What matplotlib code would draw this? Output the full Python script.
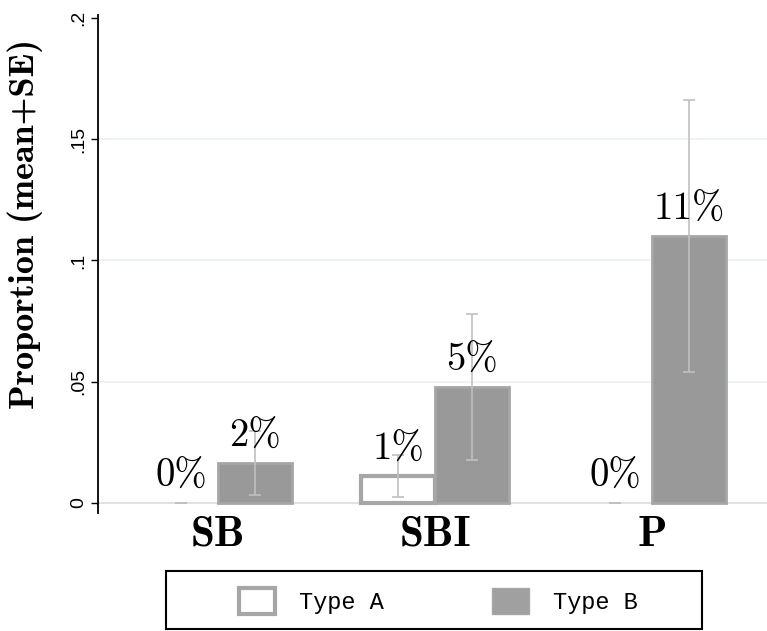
import numpy as np
import matplotlib
matplotlib.use("Agg")
import matplotlib.pyplot as plt
from matplotlib.patches import Patch, Rectangle

# data
groups = ["SB", "SBI", "P"]
type_a = [0.0, 0.0111, 0.0]
type_a_se = [0.0, 0.0086, 0.0]
type_b = [0.0165, 0.0478, 0.1100]
type_b_se = [0.0130, 0.0300, 0.0560]
labels_a = ["0%", "1%", "0%"]
labels_b = ["2%", "5%", "11%"]
yticks = [0, 0.05, 0.1, 0.15, 0.2]
yticklabels = ["0", ".05", ".1", ".15", ".2"]

W, H = 767, 631
fig = plt.figure(figsize=(W / 100, H / 100), dpi=100)
ax = fig.add_axes([98 / W, 1 - 513 / H, (767 - 98) / W, (513 - 15) / H])

x = np.arange(len(groups))
w = 0.34
edge = "#a6a6a6"
err_col = "#c0c0c0"

# gridlines
for t in yticks[1:-1]:
    ax.axhline(t, color="#e9f1f2", lw=1.2, zorder=0)
ax.axhline(0, color="#dcdcdc", lw=1.2, zorder=0)

ax.bar(x - w / 2, type_a, w, color="white", edgecolor=edge,
       linewidth=[3 if v > 0 else 0 for v in type_a], zorder=2)
ax.bar(x + w / 2, type_b, w, color="#999999", edgecolor=edge,
       linewidth=2, zorder=2)

ax.errorbar(x - w / 2, type_a, yerr=type_a_se, fmt="none", ecolor=err_col,
            elinewidth=1.2, capsize=4, capthick=1.2, zorder=3)
ax.errorbar(x + w / 2, type_b, yerr=type_b_se, fmt="none", ecolor=err_col,
            elinewidth=1.2, capsize=4, capthick=1.2, zorder=3)

for xi, v, lab in zip(x - w / 2, type_a, labels_a):
    ax.annotate(lab, (xi, v), xytext=(0, 6), textcoords="offset points",
                ha="center", va="bottom", fontsize=28, family="cmr10", zorder=4)
for xi, v, lab in zip(x + w / 2, type_b, labels_b):
    ax.annotate(lab, (xi, v), xytext=(0, 6), textcoords="offset points",
                ha="center", va="bottom", fontsize=28, family="cmr10", zorder=4)

ax.set_xlim(-0.553, 2.53)
ax.set_ylim(-0.0041, 0.2012)
ax.set_xticks(x)
ax.set_xticklabels(groups, fontsize=31, family="cmb10")
ax.tick_params(axis="x", length=0, pad=2)
ax.set_yticks(yticks)
ax.set_yticklabels(yticklabels, rotation=90, va="center", fontsize=14,
                   family="Liberation Sans")
ax.tick_params(axis="y", length=5, width=1, pad=3, color="black")

for s in ["top", "right", "bottom"]:
    ax.spines[s].set_visible(False)
ax.spines["left"].set_linewidth(1.3)

ax.set_ylabel("Proportion (mean+SE)", fontsize=26, family="cmb10")
ax.yaxis.set_label_coords(-0.082, 0.58)

# legend below the plot
handles = [Patch(facecolor="white", edgecolor=edge, linewidth=3),
           Patch(facecolor="#a0a0a0", edgecolor="#a8a8a8", linewidth=1)]
fig.legend(handles, ["Type A", "Type B"], ncol=2, frameon=False,
           loc="center", bbox_to_anchor=(438 / W, 1 - 601 / H),
           prop={"family": "Liberation Mono", "size": 17},
           handlelength=1.55, handleheight=1.3, handletextpad=1.0,
           columnspacing=4.6)
fig.patches.append(Rectangle((166 / W, 1 - 629 / H), (702 - 166) / W, 58 / H,
                             transform=fig.transFigure, fill=False,
                             edgecolor="black", linewidth=1.5))

fig.savefig("out.png", dpi=100)
